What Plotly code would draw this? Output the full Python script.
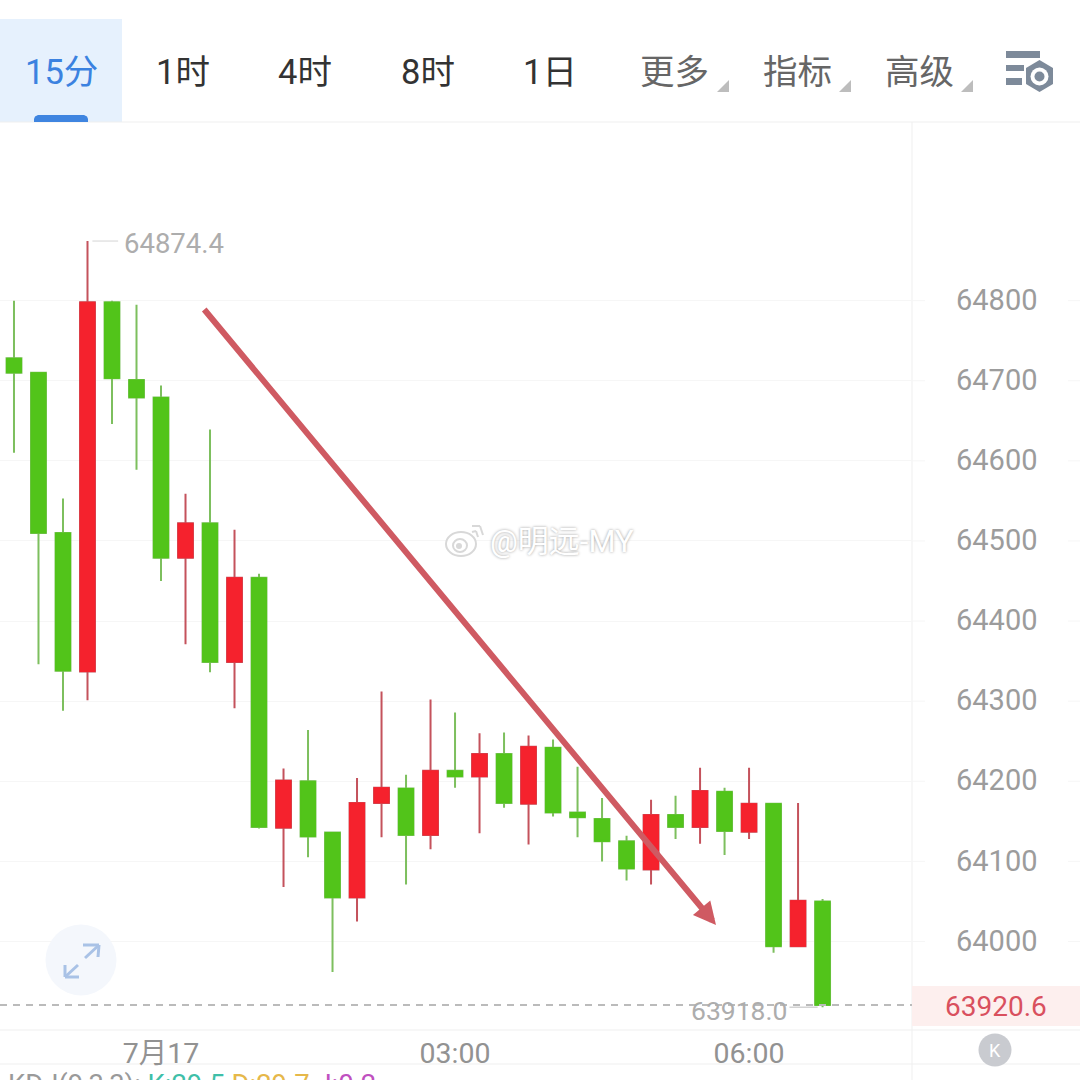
import plotly.graph_objects as go

# --- data -------------------------------------------------------------
tabs = ["15分", "1时", "4时", "8时", "1日", "更多", "指标", "高级"]
price_ticks = [64000, 64100, 64200, 64300, 64400, 64500, 64600, 64700, 64800]
time_tick_idx = [6, 18, 30]
time_tick_text = ["7月17", "03:00", "06:00"]

opens  = [64728, 64710, 64510, 64337, 64798, 64701, 64679, 64479, 64522, 64349,
          64454, 64142, 64200, 64136, 64055, 64173, 64191, 64133, 64213, 64206,
          64234, 64172, 64242, 64161, 64153, 64125, 64090, 64158, 64143, 64187,
          64137, 64172, 63994, 64050]
highs  = [64800, 64710, 64553, 64874.4, 64800, 64795, 64694, 64559, 64639, 64514,
          64459, 64216, 64264, 64136, 64204, 64312, 64208, 64302, 64286, 64260,
          64261, 64257, 64252, 64218, 64179, 64132, 64177, 64182, 64217, 64192,
          64217, 64172, 64173, 64053]
lows   = [64610, 64346, 64288, 64301, 64646, 64589, 64450, 64371, 64336, 64291,
          64141, 64068, 64105, 63962, 64025, 64130, 64071, 64115, 64192, 64135,
          64167, 64121, 64156, 64130, 64100, 64076, 64071, 64128, 64122, 64108,
          64128, 63986, 63994, 63918.0]
closes = [64710, 64510, 64338, 64798, 64703, 64679, 64479, 64522, 64349, 64454,
          64143, 64201, 64131, 64055, 64173, 64192, 64133, 64213, 64206, 64234,
          64173, 64243, 64161, 64155, 64125, 64091, 64158, 64143, 64188, 64138,
          64172, 63994, 64051, 63920.6]
x_idx = list(range(len(opens)))

last_price = closes[-1]
max_price = max(highs)
min_price = min(lows)
kdj_parts = [("KDJ(9,3,3): ", "#9a9a9a"), ("K:29.5 ", "#3FBFA8"), ("D:29.7 ", "#E6B84A"), ("J:0.2", "#C050C0")]

# --- palette ----------------------------------------------------------
GREEN, RED = "#52C41A", "#F5222D"
GREEN_W, RED_W = "#7DBF5E", "#C4525C"
GRID = "#F6F6F6"
LINE = "#EFEFEF"
ICON = "#7D8A9A"
FONT = "Roboto, 'Noto Sans CJK SC', sans-serif"
W = 1080.0
def px(v): return v / W
def py(v): return 1 - v / W

fig = go.Figure()
# wicks
fig.add_trace(go.Candlestick(
    x=x_idx, open=opens, high=highs, low=lows, close=closes, whiskerwidth=0,
    increasing=dict(line=dict(color=RED_W, width=2), fillcolor=RED),
    decreasing=dict(line=dict(color=GREEN_W, width=2), fillcolor=GREEN),
    hoverinfo="skip", showlegend=False))
# bodies over the wicks, so the bodies have no muted outline
fig.add_trace(go.Candlestick(
    x=x_idx, open=opens, close=closes,
    high=[max(a, b) for a, b in zip(opens, closes)],
    low=[min(a, b) for a, b in zip(opens, closes)], whiskerwidth=0,
    increasing=dict(line=dict(color=RED, width=1), fillcolor=RED),
    decreasing=dict(line=dict(color=GREEN, width=1), fillcolor=GREEN),
    hoverinfo="skip", showlegend=False))

shapes = []
def rect(x0, y0, x1, y1, fill, layer="below"):
    shapes.append(dict(type="rect", xref="paper", yref="paper", x0=px(x0), x1=px(x1), y0=py(y0), y1=py(y1),
                       fillcolor=fill, line=dict(width=0), layer=layer))
def seg(x0, y0, x1, y1, color, width=1, dash=None, layer="above"):
    shapes.append(dict(type="line", xref="paper", yref="paper", x0=px(x0), x1=px(x1), y0=py(y0), y1=py(y1),
                       line=dict(color=color, width=width, dash=dash), layer=layer))
def circ(cx, cy, r, fill, layer="above"):
    shapes.append(dict(type="circle", xref="paper", yref="paper", x0=px(cx - r), x1=px(cx + r), y0=py(cy + r), y1=py(cy - r),
                       fillcolor=fill, line=dict(width=0), layer=layer))
def poly(pts, fill, layer="above"):
    d = "M " + " L ".join(f"{px(a):.5f} {py(b):.5f}" for a, b in pts) + " Z"
    shapes.append(dict(type="path", xref="paper", yref="paper", path=d, fillcolor=fill, line=dict(width=0), layer=layer))

# tab bar
rect(0, 19, 122, 122, "#E6F1FD")
poly([(34, 122), (34, 119), (35, 116.5), (38, 115), (84, 115), (87, 116.5), (88, 119), (88, 122)], "#3F85E0")
seg(0, 122, 1080, 122, LINE, 1, layer="below")
for tx in (729, 851, 973):
    poly([(tx, 80), (tx, 92), (tx - 12, 92)], "#BDBDBD")
# settings icon
for (a, b, c, d) in ((1006, 51, 1040, 58), (1006, 65, 1024, 71), (1006, 78, 1022, 85)):
    rect(a, b, c, d, ICON, layer="above")
poly([(1039.5, 60), (1053, 68), (1053, 84), (1039.5, 92), (1026, 84), (1026, 68)], ICON)
circ(1039.5, 76.5, 9, "#FFFFFF")
circ(1039.5, 76.5, 5, ICON)

# frame lines
seg(912, 122, 912, 1080, LINE, 1, layer="below")
seg(0, 1030, 1080, 1030, LINE, 1, layer="below")
seg(0, 1064, 1080, 1064, LINE, 1, layer="below")
for p in price_ticks:
    shapes.append(dict(type="line", xref="paper", yref="y", x0=px(912), x1=px(925), y0=p, y1=p,
                       line=dict(color=GRID, width=1), layer="below"))
    shapes.append(dict(type="line", xref="paper", yref="y", x0=px(1068), x1=1, y0=p, y1=p,
                       line=dict(color=GRID, width=1), layer="below"))

# last price line and tag
shapes.append(dict(type="line", xref="paper", yref="y", x0=0, x1=px(912), y0=last_price, y1=last_price,
                   line=dict(color="#BBBBBB", width=2, dash="7px,6px"), layer="above"))
rect(912, 986, 1080, 1026, "#FDEFEE")

# high and low leader lines
shapes.append(dict(type="line", xref="x", yref="y", x0=x_idx[3] + 0.2, x1=x_idx[3] + 1.25, y0=max_price, y1=max_price,
                   line=dict(color="#D4D4D4", width=1), layer="above"))
shapes.append(dict(type="line", xref="x", yref="y", x0=x_idx[-1] - 1.35, x1=x_idx[-1] - 0.2, y0=min_price, y1=min_price,
                   line=dict(color="#BDBDBD", width=1), layer="above"))

# expand button
circ(81, 960, 35.5, "#F4F7FC")
for a in ((85, 958, 99, 945), (83, 945, 99, 945), (99, 945, 98, 957),
          (78, 965, 65, 977), (65, 965, 65, 977), (65, 977, 79, 977)):
    seg(*a, "#A9C2E6", 3)

# K button
circ(995, 1050, 16.5, "#C9CBD0")

# watermark logo
wm = "#D8D8D8"
shapes.append(dict(type="circle", xref="paper", yref="paper", x0=px(446), x1=px(476), y0=py(556), y1=py(532),
                   fillcolor="rgba(255,255,255,0.85)", line=dict(color=wm, width=2), layer="above"))
shapes.append(dict(type="circle", xref="paper", yref="paper", x0=px(453), x1=px(467), y0=py(552), y1=py(539),
                   fillcolor="rgba(255,255,255,0)", line=dict(color=wm, width=2), layer="above"))
circ(459, 546, 3, wm)
seg(472, 532, 476, 531, wm, 2)
seg(476, 531, 478, 537, wm, 2)
seg(472, 526, 480, 526, wm, 2)
seg(480, 526, 483, 535, wm, 2)

anns = []
def label(x, y, text, color, size, anchor="center", **kw):
    anns.append(dict(xref="paper", yref="paper", x=px(x), y=py(y), text=text, showarrow=False,
                     xanchor=anchor, yanchor="middle", font=dict(color=color, size=size, family=FONT, **kw)))

tab_x = [61, 183, 305, 428, 550, 674, 797, 919]
tab_c = ["#3B82E0", "#333333", "#333333", "#333333", "#333333", "#666666", "#666666", "#666666"]
for t, x, c in zip(tabs, tab_x, tab_c):
    label(x, 72, t, c, 34.5)

anns.append(dict(xref="x", yref="y", x=x_idx[3], y=max_price, text=f"{max_price:.1f}", showarrow=False,
                 xanchor="left", yanchor="middle", xshift=34, yshift=-2, font=dict(color="#ADADAD", size=27.5, family=FONT)))
anns.append(dict(xref="x", yref="y", x=x_idx[-1], y=min_price, text=f"{min_price:.1f}", showarrow=False,
                 xanchor="right", yanchor="middle", xshift=-34, yshift=-3, font=dict(color="#ADADAD", size=26.5, family=FONT)))
label(996, 1006, f"{last_price:.1f}", "#D9505E", 28)
label(995, 1050, "K", "#FFFFFF", 18)
label(488, 541, "@明远-MY", "#FFFFFF", 31, anchor="left", shadow="0 0 3px #9A9A9A")
kdj = "".join(f"<span style='color:{c}'>{t}</span>" for t, c in kdj_parts)
anns.append(dict(xref="paper", yref="paper", x=0, y=py(1085), text=kdj, showarrow=False, xanchor="left", yanchor="middle",
                 xshift=6, font=dict(size=27.4, family=FONT)))

# hand-drawn arrow
anns.append(dict(xref="paper", yref="paper", x=px(716), y=py(925), text="", showarrow=True,
                 ax=-513, ay=-617, arrowcolor="#CF5A62", arrowwidth=6, arrowhead=2, arrowsize=0.75))

fig.update_layout(
    width=1080, height=1080, autosize=False, paper_bgcolor="#FFFFFF", plot_bgcolor="#FFFFFF",
    margin=dict(l=0, r=0, t=0, b=0), showlegend=False, boxmode="overlay", boxgap=0.13,
    font=dict(family=FONT), shapes=shapes, annotations=anns,
    xaxis=dict(domain=[0, px(912)], range=[-0.571, 36.65], rangeslider=dict(visible=False), showgrid=False,
               zeroline=False, showline=False, ticks="", tickmode="array", tickvals=time_tick_idx, ticktext=time_tick_text,
               tickfont=dict(size=28.5, color="#929292"), ticklabelstandoff=3),
    yaxis=dict(domain=[50 / W, 958 / W], range=[63889.5, 65023], side="right", showgrid=True, gridcolor=GRID, gridwidth=1,
               zeroline=False, showline=False, ticks="", tickmode="array", tickvals=price_ticks,
               ticktext=[str(p) for p in price_ticks], tickfont=dict(size=29, color="#9C9C9C"), ticklabelstandoff=43,
               ticklabelshift=-1),
)
fig.write_html("out.html", config=dict(displayModeBar=False), post_script="document.body.style.margin='0';document.body.style.overflow='hidden';")
